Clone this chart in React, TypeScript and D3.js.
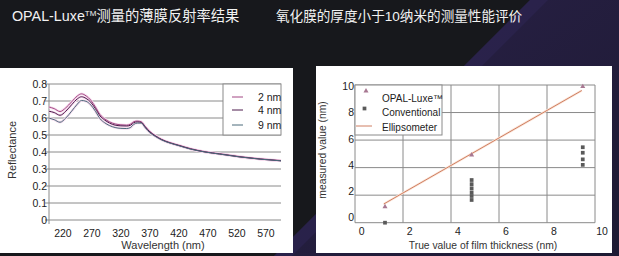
import React from "react";
import * as d3 from "d3";

// ---------- Left chart data (reflectance vs wavelength) ----------
const wavelengths = [196, 205, 215, 225, 235, 245, 252, 260, 268, 276, 284, 292, 300, 310, 320, 330, 337, 342, 348, 355, 362, 370, 380, 390, 405, 420, 440, 465, 490, 525, 560, 596];
const refl2nm = [0.665, 0.655, 0.638, 0.66, 0.695, 0.73, 0.742, 0.73, 0.705, 0.665, 0.62, 0.595, 0.578, 0.565, 0.56, 0.558, 0.565, 0.578, 0.582, 0.578, 0.55, 0.52, 0.495, 0.475, 0.455, 0.44, 0.42, 0.402, 0.39, 0.373, 0.36, 0.35];
const refl4nm = [0.64, 0.632, 0.616, 0.64, 0.678, 0.713, 0.725, 0.715, 0.693, 0.655, 0.612, 0.588, 0.571, 0.558, 0.554, 0.553, 0.558, 0.572, 0.577, 0.574, 0.547, 0.518, 0.493, 0.473, 0.453, 0.438, 0.418, 0.4, 0.388, 0.371, 0.358, 0.348];
const refl9nm = [0.6, 0.59, 0.575, 0.6, 0.64, 0.682, 0.703, 0.698, 0.677, 0.64, 0.596, 0.572, 0.556, 0.544, 0.539, 0.538, 0.545, 0.562, 0.57, 0.57, 0.542, 0.513, 0.49, 0.471, 0.452, 0.437, 0.417, 0.4, 0.388, 0.371, 0.358, 0.348];
const leftSeries = [
  { name: "2 nm", values: refl2nm, color: "#a24683" },
  { name: "4 nm", values: refl4nm, color: "#4d1a4c" },
  { name: "9 nm", values: refl9nm, color: "#4a6a7a" },
];
const wlTicks = [220, 270, 320, 370, 420, 470, 520, 570];
const reflTicks = [0, 0.1, 0.2, 0.3, 0.4, 0.5, 0.6, 0.7, 0.8];

// ---------- Right chart data (measured vs true thickness) ----------
const opalX = [1.25, 4.86, 9.49];
const opalY = [1.16, 4.92, 9.88];
const convX = [1.25, 4.86, 4.86, 4.86, 4.86, 4.86, 4.86, 9.49, 9.49, 9.49, 9.49];
const convY = [0.0, 3.1, 2.8, 2.5, 2.2, 1.94, 1.65, 5.48, 5.08, 4.6, 4.2];
const ellipX = [1.2, 9.45];
const ellipY = [1.36, 9.6];
const thickTicks = [0, 2, 4, 6, 8, 10];

const FONT = "'Liberation Sans', Arial, 'Noto Sans CJK SC', sans-serif";

export default function App() {
  // left scales
  const lx = d3.scaleLinear().domain([196, 596]).range([49, 281]);
  const ly = d3.scaleLinear().domain([0, 0.8]).range([220, 84]);
  const line = d3
    .line<number>()
    .x((_, i) => lx(wavelengths[i]))
    .y((d) => ly(d))
    .curve(d3.curveMonotoneX);

  // right scales (grid) and label scales
  const rx = d3.scaleLinear().domain([0, 10]).range([355, 595]);
  const ry = d3.scaleLinear().domain([0, 10]).range([222.7, 85]);
  const rxLab = d3.scaleLinear().domain([0, 10]).range([361.7, 602]);
  const ryLab = d3.scaleLinear().domain([0, 10]).range([217.3, 86.7]);

  const tri = d3.symbol().type(d3.symbolTriangle).size(11)();
  const sq = d3.symbol().type(d3.symbolSquare).size(14)();

  const grid = "#8a8a8a";
  const txt = "#1c1c1c";

  return (
    <div style={{ position: "fixed", left: 0, top: 0 }}>
      <svg width={619} height={256} style={{ display: "block" }} fontFamily={FONT}>
        <defs>
          <linearGradient id="bgp" x1="0" y1="0" x2="1" y2="1">
            <stop offset="0" stopColor="#2a2148" />
            <stop offset="1" stopColor="#1d1a33" />
          </linearGradient>
        </defs>
        <rect x={0} y={0} width={619} height={256} fill="#17181c" />
        <polygon points="530,0 619,0 619,256 274,256" fill="url(#bgp)" />
        <polygon points="530,0 548,0 292,256 274,256" fill="#2c2350" opacity={0.7} />

        {/* titles */}
        <text x={12} y={21} fill="#f2f2f2" fontSize={14.3}>
          OPAL-Luxe
          <tspan fontSize={8} dy={-5}>TM</tspan>
          <tspan dy={5}>测量的薄膜反射率结果</tspan>
        </text>
        <text x={276} y={21} fill="#f2f2f2" fontSize={13.6}>
          氧化膜的厚度小于10纳米的测量性能评价
        </text>

        {/* ---------- left panel ---------- */}
        <rect x={0} y={68} width={293} height={185} fill="#ffffff" />
        {reflTicks.map((t) => (
          <g key={"lg" + t}>
            <line x1={45} x2={281} y1={ly(t)} y2={ly(t)} stroke={grid} strokeWidth={1} />
            <text x={47} y={ly(t)} dy="0.35em" textAnchor="end" fontSize={10.5} fill={txt}>
              {t === 0 ? "0" : t.toFixed(1)}
            </text>
          </g>
        ))}
        <line x1={49} x2={49} y1={84} y2={224} stroke={grid} />
        {wlTicks.map((t) => (
          <text key={"wx" + t} x={lx(t)} y={237} textAnchor="middle" fontSize={10.5} fill={txt}>
            {t}
          </text>
        ))}
        <text x={163} y={249} textAnchor="middle" fontSize={11} fill="#333">
          Wavelength (nm)
        </text>
        <text transform="translate(16,150) rotate(-90)" textAnchor="middle" fontSize={11} fill="#333">
          Reflectance
        </text>
        {leftSeries.map((s) => (
          <path key={"h" + s.name} d={line(s.values) || ""} fill="none" stroke="#f6dcee" strokeWidth={2.5} />
        ))}
        {leftSeries.map((s) => (
          <path key={"l" + s.name} d={line(s.values) || ""} fill="none" stroke={s.color} strokeWidth={1} />
        ))}
        {/* legend */}
        <rect x={223} y={84} width={58} height={51} fill="#ffffff" stroke={grid} />
        {leftSeries.map((s, i) => {
          const yy = [97, 110, 125][i];
          return (
            <g key={"leg" + s.name}>
              <line x1={232} x2={243} y1={yy} y2={yy} stroke={s.color} strokeWidth={1} />
              <text x={258} y={yy} dy="0.35em" fontSize={10.5} fill={txt}>
                {s.name}
              </text>
            </g>
          );
        })}

        {/* ---------- right panel ---------- */}
        <rect x={316} y={66} width={296} height={187} fill="#ffffff" />
        {thickTicks.map((t) => (
          <g key={"rg" + t}>
            <line x1={rx(t)} x2={rx(t)} y1={ry(0)} y2={ry(10)} stroke={grid} />
            <line x1={rx(0)} x2={rx(10)} y1={ry(t)} y2={ry(t)} stroke={grid} />
            <text x={rxLab(t)} y={231.7} dy="0.35em" textAnchor="middle" fontSize={10.5} fill={txt}>
              {t}
            </text>
            <text x={354} y={ryLab(t)} dy="0.35em" textAnchor="end" fontSize={10.5} fill={txt}>
              {t}
            </text>
          </g>
        ))}
        <text x={483} y={245} dy="0.35em" textAnchor="middle" fontSize={10.3} fill="#333">
          True value of film thickness (nm)
        </text>
        <text transform="translate(322,150) rotate(-90)" dy="0.35em" textAnchor="middle" fontSize={10.3} fill="#333">
          measured value (nm)
        </text>
        {/* ellipsometer line */}
        <line x1={rx(ellipX[0])} y1={ry(ellipY[0])} x2={rx(ellipX[1])} y2={ry(ellipY[1])} stroke="#fbe6da" strokeWidth={2.5} />
        <line x1={rx(ellipX[0])} y1={ry(ellipY[0])} x2={rx(ellipX[1])} y2={ry(ellipY[1])} stroke="#cf7f62" strokeWidth={1} />
        {convX.map((x, i) => (
          <path key={"c" + i} d={sq || ""} transform={`translate(${rx(x)},${ry(convY[i])})`} fill="#5a5a5a" />
        ))}
        {opalX.map((x, i) => (
          <path key={"o" + i} d={tri || ""} transform={`translate(${rx(x)},${ry(opalY[i])})`} fill="#a87892" />
        ))}
        {/* legend */}
        <rect x={355} y={85} width={87} height={50} fill="#ffffff" stroke={grid} />
        <path d={tri || ""} transform="translate(366,91)" fill="#a87892" />
        <text x={382} y={98.5} dy="0.35em" fontSize={10} fill={txt}>OPAL-Luxe™</text>
        <path d={sq || ""} transform="translate(364.5,108.5)" fill="#5a5a5a" />
        <text x={382} y={112} dy="0.35em" fontSize={10} fill={txt}>Conventional</text>
        <line x1={356} x2={372} y1={126} y2={126} stroke="#cf7f62" />
        <text x={382} y={127} dy="0.35em" fontSize={10} fill={txt}>Ellipsometer</text>
      </svg>
    </div>
  );
}
